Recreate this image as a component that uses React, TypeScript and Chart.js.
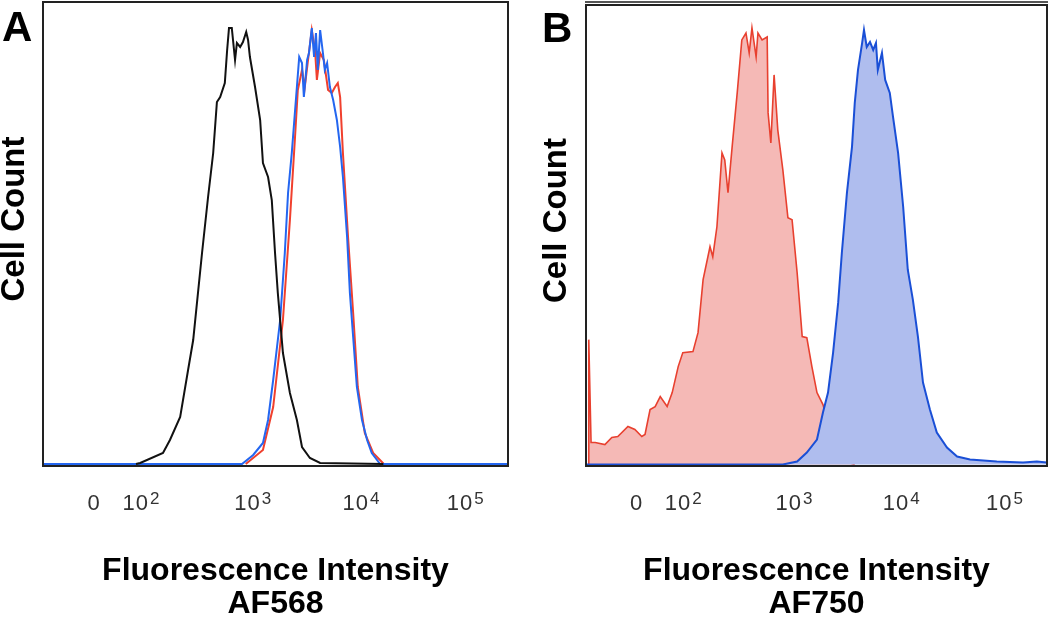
import React, { useEffect, useRef } from "react";
import { Chart, registerables } from "chart.js";

Chart.register(...registerables);

// ---- axis ticks (channel positions on a 0..1000 display scale) ----
const tickChannels = [110, 212, 452, 685, 909];
const tickLabels = ["0", "10²", "10³", "10⁴", "10⁵"];

// ---- Panel A (AF568) ----
const aBlackCh = [200, 209, 258, 273, 295, 312, 323, 342, 355, 366, 374, 381, 391, 396, 400, 406, 413, 417, 424, 430, 437, 441, 445, 456, 467, 473, 484, 492, 499, 505, 516, 531, 546, 557, 574, 596, 732];
const aBlackCount = [0, 1, 11, 24, 47, 94, 124, 211, 267, 311, 362, 367, 381, 414, 436, 436, 404, 421, 417, 422, 432, 424, 407, 377, 344, 301, 287, 264, 211, 171, 111, 71, 44, 17, 6, 1, 0];

const aBlueCh = [0, 428, 452, 473, 484, 495, 510, 520, 527, 535, 540, 546, 551, 557, 561, 568, 572, 578, 583, 587, 591, 596, 602, 606, 611, 617, 624, 632, 639, 645, 654, 660, 667, 675, 686, 697, 707, 725, 1000];
const aBlueCount = [0, 0, 9, 21, 44, 84, 144, 211, 271, 311, 341, 377, 407, 401, 367, 404, 411, 436, 407, 431, 394, 434, 411, 394, 401, 377, 364, 344, 317, 287, 227, 171, 127, 77, 44, 24, 11, 0, 0];

const aRedCh = [436, 473, 495, 516, 531, 542, 548, 557, 563, 570, 578, 585, 589, 596, 604, 613, 621, 628, 634, 639, 645, 656, 667, 677, 692, 710, 733];
const aRedCount = [0, 14, 57, 144, 244, 327, 374, 394, 377, 404, 434, 414, 384, 411, 404, 374, 371, 377, 381, 367, 311, 227, 151, 77, 31, 11, 0];

// ---- Panel B (AF750) ----
const bRedCh = [5, 6, 11, 20, 41, 56, 69, 91, 106, 121, 128, 139, 150, 161, 176, 187, 200, 210, 232, 243, 254, 269, 275, 284, 295, 301, 308, 317, 328, 338, 347, 354, 360, 369, 373, 382, 393, 395, 401, 408, 416, 427, 438, 447, 458, 469, 479, 490, 501, 514, 529, 547, 562, 583];
const bRedCount = [0, 125, 22, 22, 20, 27, 28, 38, 35, 28, 30, 55, 58, 68, 58, 72, 98, 112, 113, 132, 185, 218, 208, 238, 312, 305, 272, 318, 372, 425, 432, 412, 437, 408, 432, 425, 428, 352, 322, 390, 335, 295, 247, 245, 192, 128, 127, 98, 72, 60, 35, 12, 3, 0];

const bBlueCh = [0, 427, 458, 479, 501, 514, 525, 536, 547, 555, 566, 577, 583, 590, 599, 603, 609, 616, 623, 629, 633, 642, 649, 659, 666, 677, 688, 698, 709, 720, 731, 746, 761, 783, 805, 833, 891, 948, 978, 1000];
const bBlueCount = [0, 0, 3, 12, 25, 52, 72, 112, 162, 212, 272, 318, 362, 395, 422, 435, 418, 423, 415, 422, 395, 412, 385, 372, 348, 312, 258, 195, 165, 128, 82, 55, 32, 17, 8, 5, 3, 2, 3, 2];

const FONT = "'Liberation Sans', Arial, Helvetica, sans-serif";
const SUP: Record<string, string> = { "²": "2", "³": "3", "⁴": "4", "⁵": "5" };

const toPoints = (xs: number[], ys: number[]) => xs.map((x, i) => ({ x, y: ys[i] }));

const framePlugin = {
  id: "frame",
  afterDatasetsDraw(chart: any, _args: any, opts: any) {
    const { ctx, chartArea } = chart;
    const { left, top, right, bottom } = chartArea;
    ctx.save();
    ctx.strokeStyle = opts.color || "#222";
    ctx.lineWidth = 2;
    ctx.strokeRect(left, top, right - left, bottom - top);
    if (opts.doubleTop) {
      ctx.strokeStyle = "#555";
      ctx.beginPath();
      ctx.moveTo(left - 1, top - 3);
      ctx.lineTo(right + 1, top - 3);
      ctx.stroke();
    }
    ctx.restore();
  },
};

// Draws the x tick labels with raised exponents (10² style) at the scale's tick positions.
const tickLabelPlugin = {
  id: "expTicks",
  afterDraw(chart: any) {
    const xs = chart.scales.x;
    const ctx = chart.ctx;
    const baseY = chart.chartArea.bottom + 44;
    ctx.save();
    ctx.fillStyle = "#333";
    ctx.textBaseline = "alphabetic";
    ctx.textAlign = "left";
    try { (ctx as any).letterSpacing = "1px"; } catch (e) {}
    xs.ticks.forEach((t: any, i: number) => {
      const label = tickLabels[i];
      const last = label.charAt(label.length - 1);
      const exp = SUP[last] || "";
      const base = exp ? label.slice(0, -1) : label;
      ctx.font = `22px ${FONT}`;
      const wb = ctx.measureText(base).width;
      ctx.font = `17px ${FONT}`;
      const we = exp ? ctx.measureText(exp).width + 1 : 0;
      const px = xs.getPixelForValue(t.value);
      const x0 = px - (wb + we) / 2;
      ctx.font = `22px ${FONT}`;
      ctx.fillText(base, x0, baseY);
      if (exp) {
        ctx.font = `17px ${FONT}`;
        ctx.fillText(exp, x0 + wb + 1, baseY - 6);
      }
    });
    ctx.restore();
  },
};

const yTitlePlugin = {
  id: "yTitle",
  afterDraw(chart: any, _args: any, opts: any) {
    const { ctx, chartArea } = chart;
    ctx.save();
    ctx.translate(opts.x, (chartArea.top + chartArea.bottom) / 2 + opts.dy);
    ctx.rotate(-Math.PI / 2);
    ctx.font = `bold 33px ${FONT}`;
    ctx.textAlign = "center";
    ctx.textBaseline = "middle";
    ctx.fillStyle = "#000";
    ctx.fillText(opts.text, 0, 0);
    ctx.restore();
  },
};

type PanelProps = {
  datasets: any[];
  xTitle: string[];
  yTitle: string;
  yMin: number;
  yMax: number;
  leftW: number;
  padTop: number;
  padRight: number;
  yTitleX: number;
  doubleTop: boolean;
  width: number;
  height: number;
};

function Panel(p: PanelProps) {
  const ref = useRef<HTMLCanvasElement | null>(null);
  useEffect(() => {
    if (!ref.current) return;
    const chart = new Chart(ref.current, {
      type: "line",
      data: { datasets: p.datasets },
      plugins: [framePlugin, tickLabelPlugin, yTitlePlugin],
      options: {
        animation: false,
        responsive: false,
        maintainAspectRatio: false,
        layout: { padding: { top: p.padTop, right: p.padRight, left: 0, bottom: 0 } },
        plugins: {
          legend: { display: false },
          tooltip: { enabled: false },
          frame: { doubleTop: p.doubleTop, color: "#222" },
          yTitle: { text: p.yTitle, x: p.yTitleX, dy: -15 },
        } as any,
        elements: { point: { radius: 0 }, line: { tension: 0 } },
        scales: {
          x: {
            type: "linear",
            min: 0,
            max: 1000,
            grid: { display: false, drawTicks: false },
            border: { display: false },
            afterBuildTicks: (s: any) => {
              s.ticks = tickChannels.map((v) => ({ value: v }));
            },
            afterFit: (s: any) => {
              s.height = p.height - 466;
            },
            ticks: { display: false, autoSkip: false, maxRotation: 0 },
            title: {
              display: true,
              text: p.xTitle,
              color: "#000",
              font: { family: FONT, size: 32, weight: "bold", lineHeight: 1.03 },
              padding: { top: 0, bottom: -2 },
            },
          },
          y: {
            type: "linear",
            min: p.yMin,
            max: p.yMax,
            grid: { display: false, drawTicks: false },
            border: { display: false },
            ticks: { display: false },
            afterFit: (s: any) => {
              s.width = p.leftW;
            },
            title: { display: false, text: p.yTitle },
          },
        },
      } as any,
    });
    return () => chart.destroy();
  }, []);
  return <canvas ref={ref} width={p.width} height={p.height} style={{ width: p.width, height: p.height, display: "block" }} />;
}

export default function App() {
  const aDatasets = [
    { label: "Unstained", data: toPoints(aBlackCh, aBlackCount), borderColor: "#111111", borderWidth: 2, fill: false },
    { label: "Sample 1", data: toPoints(aBlueCh, aBlueCount), borderColor: "#2466f0", borderWidth: 2, fill: false },
    { label: "Sample 2", data: toPoints(aRedCh, aRedCount), borderColor: "#f0402e", borderWidth: 2, fill: false },
  ];
  const bDatasets = [
    { label: "Sample 1", data: toPoints(bBlueCh, bBlueCount), borderColor: "#1a4fd6", backgroundColor: "#afbdee", borderWidth: 2, fill: "origin" },
    { label: "Sample 2", data: toPoints(bRedCh, bRedCount), borderColor: "#e8402f", backgroundColor: "#f5b9b6", borderWidth: 1.6, fill: "origin" },
  ];
  const letter: React.CSSProperties = {
    position: "absolute",
    fontFamily: FONT,
    fontWeight: "bold",
    fontSize: 42,
    lineHeight: "42px",
    color: "#000",
  };
  return (
    <div style={{ position: "fixed", left: 0, top: 0, width: 1050, height: 619, background: "#fff", overflow: "hidden" }}>
      <div style={{ position: "absolute", left: 0, top: 0 }}>
        <Panel
          datasets={aDatasets}
          xTitle={["Fluorescence Intensity", "AF568"]}
          yTitle="Cell Count"
          yMin={-2}
          yMax={462}
          leftW={43}
          padTop={2}
          padRight={17}
          yTitleX={15}
          doubleTop={false}
          width={525}
          height={619}
        />
      </div>
      <div style={{ position: "absolute", left: 540, top: 0 }}>
        <Panel
          datasets={bDatasets}
          xTitle={["Fluorescence Intensity", "AF750"]}
          yTitle="Cell Count"
          yMin={-1.5}
          yMax={460}
          leftW={46}
          padTop={5}
          padRight={3}
          yTitleX={17}
          doubleTop={true}
          width={510}
          height={619}
        />
      </div>
      <div style={{ ...letter, left: 2, top: 6 }}>A</div>
      <div style={{ ...letter, left: 542, top: 7 }}>B</div>
    </div>
  );
}
